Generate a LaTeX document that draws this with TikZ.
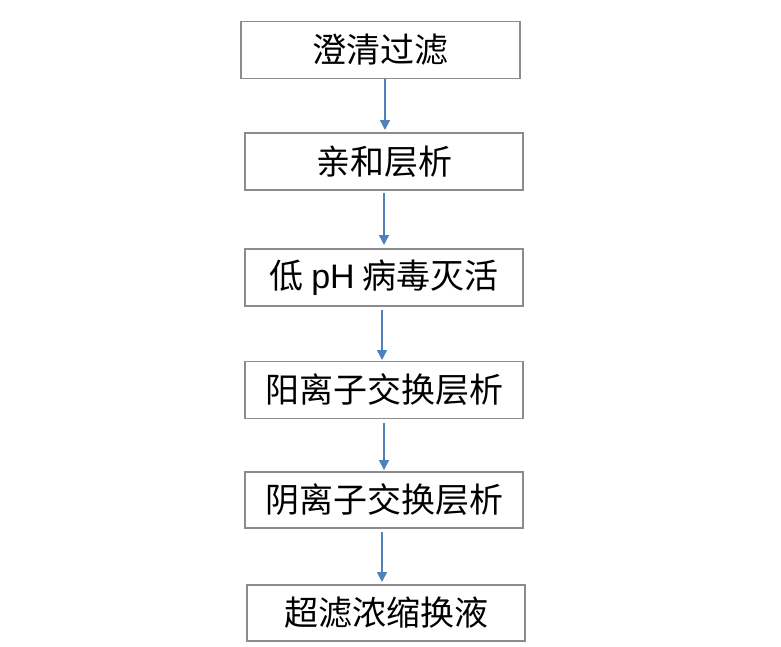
\documentclass[tikz,border=0pt]{standalone}
\usepackage{fontspec}
\newfontfamily\cjk{Noto Sans CJK SC}
\newfontfamily\latn{Liberation Sans}
\usetikzlibrary{arrows.meta}
\definecolor{boxgray}{HTML}{8C8C8C}
\definecolor{arrowblue}{HTML}{4F81BD}
\tikzset{
  stepbox/.style={draw=boxgray, line width=0.9pt, rectangle, inner sep=0pt,
    font=\cjk\fontsize{25.5}{30}\selectfont},
  flowarrow/.style={draw=arrowblue, line width=1.1pt,
    -{Triangle[width=7.5pt,length=7.5pt]}}
}
\begin{document}
\begin{tikzpicture}[x=0.75pt,y=-0.75pt]
\useasboundingbox (0,0) rectangle (781,646);
\node[stepbox, minimum width=279*0.75pt, minimum height=57*0.75pt] (b1) at (380.5,50) {澄清过滤};
\node[stepbox, minimum width=278*0.75pt, minimum height=57*0.75pt] (b2) at (384,161.5) {亲和层析};
\node[stepbox, minimum width=278*0.75pt, minimum height=57*0.75pt] (b3) at (384,277.5) {低 {\latn pH} 病毒灭活};
\node[stepbox, minimum width=278*0.75pt, minimum height=57*0.75pt] (b4) at (384,390) {阳离子交换层析};
\node[stepbox, minimum width=278*0.75pt, minimum height=56*0.75pt] (b5) at (384,500) {阴离子交换层析};
\node[stepbox, minimum width=278*0.75pt, minimum height=56*0.75pt] (b6) at (386,613) {超滤浓缩换液};
\coordinate (a1s) at (385,78.5);  \coordinate (a1e) at (385,130);
\coordinate (a2s) at (384,193);   \coordinate (a2e) at (384,245);
\coordinate (a3s) at (382,310);   \coordinate (a3e) at (382,360);
\coordinate (a4s) at (384,423);   \coordinate (a4e) at (384,470);
\coordinate (a5s) at (382,532);   \coordinate (a5e) at (382,582);
\draw[flowarrow] (a1s) -- (a1e);
\draw[flowarrow] (a2s) -- (a2e);
\draw[flowarrow] (a3s) -- (a3e);
\draw[flowarrow] (a4s) -- (a4e);
\draw[flowarrow] (a5s) -- (a5e);
\end{tikzpicture}
\end{document}
